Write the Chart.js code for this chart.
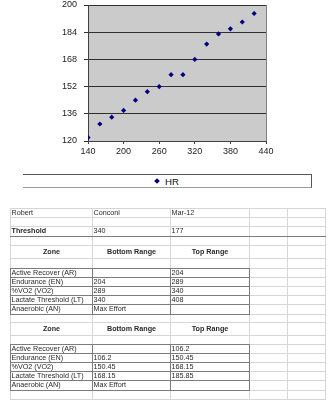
<!DOCTYPE html>
<html><head><meta charset="utf-8">
<script src="https://cdn.jsdelivr.net/npm/chart.js@4"></script>
<style>
html,body{margin:0;padding:0;background:#fff;width:333px;height:400px;overflow:hidden;font-family:'Liberation Sans',Arial,sans-serif}
#c{position:absolute;left:0;top:0}
#legend{position:absolute;left:23px;top:174px;width:288px;height:12px;border-top:1px solid #555;border-right:1px solid #555;border-bottom:1px solid #9a9a9a;box-sizing:content-box}
#legend .mk{position:absolute;left:132px;top:4px;width:4px;height:4px;background:#000080;transform:rotate(45deg)}
#legend .tx{position:absolute;left:142px;top:0;line-height:13px;font-size:9.6px;color:#111}
#sheet{position:absolute;left:0;top:0;width:333px;height:400px}
.ln{position:absolute;}
.cell{position:absolute;font-size:7.2px;color:#2a2a2a;white-space:nowrap;overflow:visible;display:flex;align-items:center}
</style></head><body>
<canvas id="c" width="333" height="166"></canvas>
<div id="legend"><div class="mk"></div><div class="tx">HR</div></div>
<div id="sheet"></div>
<script>
// ---- chart data ----
const powerX = [140,160,180,200,220,240,260,280,300,320,340,360,380,400,420];
const hrValues = [122,130,134,138,144,149,152,159,159,168,177,183,186,190,195];
const xTickValues = [140,200,260,320,380,440];
const yTickValues = [120,136,152,168,184,200];
const seriesLabel = 'HR';

// ---- sheet data ----
const headerRow = ['Robert','Conconi','Mar-12'];
const thresholdRow = ['Threshold','340','177'];
const zoneHeader = ['Zone','Bottom Range','Top Range'];
const zoneNames = ['Active Recover (AR)','Endurance (EN)','%VO2 (VO2)','Lactate Threshold (LT)','Anaerobic (AN)'];
const powerBottom = ['','204','289','340','Max Effort'];
const powerTop = ['204','289','340','408',''];
const hrBottom = ['','106.2','150.45','168.15','Max Effort'];
const hrTop = ['106.2','150.45','168.15','185.85',''];

const plotBg = {
  id:'plotBg',
  beforeDraw(chart){
    const {ctx, chartArea:a} = chart;
    ctx.save();
    ctx.fillStyle = '#cbcbcb';
    ctx.fillRect(a.left, a.top, a.right-a.left, a.bottom-a.top);
    ctx.restore();
  },
  beforeDatasetsDraw(chart){
    const {ctx, chartArea:a} = chart;
    ctx.save();
    ctx.strokeStyle = '#808080';
    ctx.lineWidth = 1;
    ctx.beginPath();
    ctx.moveTo(Math.round(a.right)+0.5, a.top);
    ctx.lineTo(Math.round(a.right)+0.5, a.bottom);
    ctx.stroke();
    ctx.restore();
  }
};

const tickFont = {family:"'Liberation Sans', Arial, sans-serif", size:9};
new Chart(document.getElementById('c'), {
  type:'scatter',
  data:{datasets:[{
    label: seriesLabel,
    data: powerX.map((x,i)=>({x:x, y:hrValues[i]})),
    pointStyle:'rectRot', pointRadius:2.6, pointHoverRadius:2.6,
    backgroundColor:'#000080', borderColor:'#000080', borderWidth:0
  }]},
  options:{
    responsive:false, animation:false, events:[],
    layout:{padding:{left:0,right:67,top:5,bottom:0}},
    plugins:{legend:{display:false}, tooltip:{enabled:false}},
    scales:{
      x:{type:'linear', min:140, max:440,
        afterBuildTicks(s){ s.ticks = xTickValues.map(v=>({value:v})); },
        afterFit(s){ s.height = 25; s.paddingLeft = 0; s.paddingRight = 0; },
        ticks:{font:tickFont, color:'#222', padding:2, maxRotation:0, autoSkip:false},
        grid:{drawOnChartArea:false, drawTicks:true, tickLength:3, color:'#404040'},
        border:{color:'#404040'}
      },
      y:{type:'linear', min:120, max:200,
        afterBuildTicks(s){ s.ticks = yTickValues.map(v=>({value:v})); },
        afterFit(s){ s.width = 88; s.paddingTop = 0; s.paddingBottom = 0; },
        ticks:{font:tickFont, color:'#222', padding:7},
        grid:{color:'#303030', lineWidth:1, drawTicks:true, tickLength:4},
        border:{color:'#404040'}
      }
    }
  },
  plugins:[plotBg]
});

// ---- sheet layout ----
const sheet = document.getElementById('sheet');
const colX = [10,92,170,249,287,325];
const rowY = [207.5,216.5,225.5,235.5,245,258,267.5,276.7,286,295.3,304.3,313.5,322,335,343.5,352.7,362,371,380.3,389.5,398.5];
function hline(y,x1,x2,c){const d=document.createElement('div');d.className='ln';d.style.cssText=`left:${x1}px;top:${Math.round(y)}px;width:${x2-x1+1}px;height:1px;background:${c}`;sheet.appendChild(d);}
function vline(x,y1,y2,c){const d=document.createElement('div');d.className='ln';d.style.cssText=`left:${x}px;top:${Math.round(y1)}px;width:1px;height:${Math.round(y2)-Math.round(y1)}px;background:${c}`;sheet.appendChild(d);}
function cell(r,c,text,opt){
  if(text==='') return;
  opt = opt||{};
  const d=document.createElement('div');d.className='cell';
  const top=rowY[r], h=rowY[r+1]-rowY[r];
  d.style.left=(colX[c]+1.5)+'px'; d.style.top=top+'px'; d.style.height=h+'px';
  d.style.width=(colX[c+1]-colX[c]-2)+'px';
  if(opt.bold) d.style.fontWeight='bold';
  if(opt.center) d.style.justifyContent='center';
  d.textContent=text; sheet.appendChild(d);
}
const light='#d6d6d6', dark='#7c7c7c';
// light grid
rowY.forEach(y=>hline(y,colX[0],colX[5],light));
colX.forEach(x=>vline(x,rowY[0],400,light));
// dark line under threshold
hline(rowY[3],colX[0],colX[5],dark);
// boxes
function box(r0){
  for(let r=r0;r<=r0+5;r++) hline(rowY[r],colX[0],colX[3],dark);
  [0,1,2,3].forEach(c=>vline(colX[c],rowY[r0],rowY[r0+5]+1,dark));
}
box(6); box(14);
// text
headerRow.forEach((t,i)=>cell(0,i,t));
thresholdRow.forEach((t,i)=>cell(2,i,t,{bold:i===0}));
zoneHeader.forEach((t,i)=>{cell(4,i,t,{bold:true,center:true});cell(12,i,t,{bold:true,center:true});});
zoneNames.forEach((t,i)=>{
  cell(6+i,0,t); cell(6+i,1,powerBottom[i]); cell(6+i,2,powerTop[i]);
  cell(14+i,0,t); cell(14+i,1,hrBottom[i]); cell(14+i,2,hrTop[i]);
});
</script>
</body></html>
